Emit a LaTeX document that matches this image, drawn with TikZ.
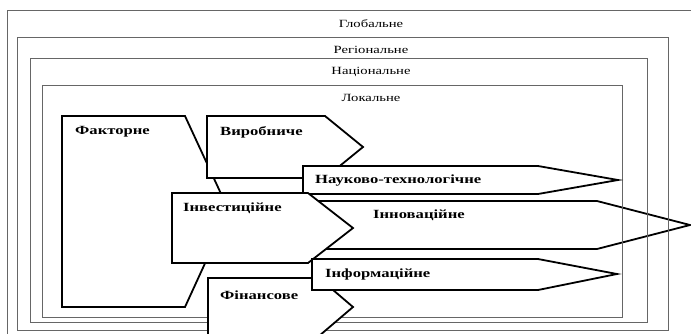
\documentclass[tikz,border=0pt]{standalone}
\usepackage{fontspec}
\setmainfont[FakeStretch=1.33]{Liberation Serif}
\usepackage{tikz}

\begin{document}
\begin{tikzpicture}[x=1pt,y=-1pt,
    frame/.style={draw=black!60,line width=1pt},
    blk/.style={draw,fill=white,line width=1.8pt,line join=miter},
    lvl/.style={font=\fontsize{11}{13}\selectfont,inner sep=0pt},
    lbl/.style={anchor=west,font=\fontsize{12.5}{14}\selectfont\bfseries,inner sep=0pt}]
\useasboundingbox (0,0) rectangle (691,333);
\clip (0,0) rectangle (691,333);

% innovation arrow sits under the frames
\draw[blk] (300,201) -- (597,201) -- (690,225) -- (597,249) -- (300,249) -- cycle;
\node[lbl] (innov) at (373,215) {Інноваційне};

% levels
\draw[frame] (7,10) rectangle (695,340);
\draw[frame] (17,37) rectangle (668,330);
\draw[frame] (30,58) rectangle (647,322);
\draw[frame] (42,85) rectangle (622,317);
\node[lvl] (glob) at (371,24) {Глобальне};
\node[lvl] (reg) at (371,50) {Регіональне};
\node[lvl] (nats) at (371,72) {Національне};
\node[lvl] (lok) at (371,98) {Локальне};

% arrows
\draw[blk] (62,116) -- (185,116) -- (229,211) -- (185,307) -- (62,307) -- cycle;
\node[lbl] (fakt) at (75,132) {Факторне};

\draw[blk] (207,116) -- (325,116) -- (363,147) -- (325,178) -- (207,178) -- cycle;
\node[lbl] (vyrob) at (220,132) {Виробниче};

\draw[blk] (303,166) -- (538,166) -- (618,180) -- (538,194) -- (303,194) -- cycle;
\node[lbl] (nauk) at (315,181) {Науково-технологічне};

\draw[blk] (172,193) -- (308,193) -- (353,228) -- (308,263) -- (172,263) -- cycle;
\node[lbl] (invest) at (183,208) {Інвестиційне};

\draw[blk] (208,278) -- (319,278) -- (353,307) -- (319,336) -- (208,336) -- cycle;
\node[lbl] (fin) at (220,295) {Фінансове};

\draw[blk] (312,259) -- (538,259) -- (617,274) -- (538,290) -- (312,290) -- cycle;
\node[lbl] (inform) at (325,274) {Інформаційне};
\end{tikzpicture}
\end{document}
